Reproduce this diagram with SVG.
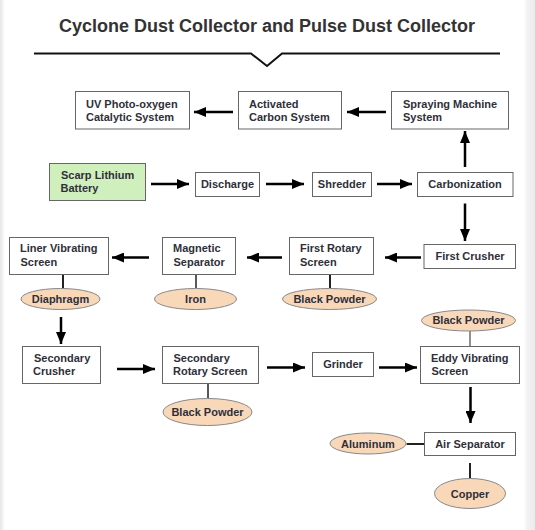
<svg xmlns="http://www.w3.org/2000/svg" width="535" height="530" viewBox="0 0 535 530">
<defs>
<style>
.t{font-family:"Liberation Sans",Arial,sans-serif;font-weight:bold;font-size:11px;fill:#2f2f3a}
.c{text-anchor:middle}
.box{fill:#fff;stroke:#666;stroke-width:1}
.ell{fill:#f8d8b9;stroke:#888;stroke-width:1}
.arr{stroke:#000;stroke-width:2.5;fill:none;marker-end:url(#ah)}
.stub{stroke:#222;stroke-width:2;fill:none}
</style>
<marker id="ah" markerUnits="userSpaceOnUse" viewBox="0 0 12 10" refX="12" refY="5" markerWidth="12" markerHeight="10" orient="auto">
<path d="M0,0 L12,5 L0,10 z" fill="#000"/>
</marker>
<linearGradient id="gl" x1="0" x2="1" y1="0" y2="0"><stop offset="0" stop-color="#e6e6e6"/><stop offset="1" stop-color="#fff"/></linearGradient>
<linearGradient id="gr" x1="0" x2="1" y1="0" y2="0"><stop offset="0" stop-color="#fff"/><stop offset="0.3" stop-color="#f2f2f2"/><stop offset="1" stop-color="#ebebeb"/></linearGradient>
</defs>
<rect x="0" y="0" width="535" height="530" fill="#fff"/>
<rect x="0" y="0" width="5" height="530" fill="url(#gl)"/>
<rect x="524" y="0" width="11" height="530" fill="url(#gr)"/>

<g id="title">
<text x="267" y="31.5" text-anchor="middle" style="font-family:'Liberation Sans',Arial,sans-serif;font-weight:bold;font-size:18px;fill:#333">Cyclone Dust Collector and Pulse Dust Collector</text>
<path d="M34,53.5 L251,53.5 L267,66 L282,53.5 L500,53.5" fill="none" stroke="#111" stroke-width="2"/>
</g>

<g id="connectors">
<line class="arr" x1="233" y1="112" x2="194" y2="112"/>
<line class="arr" x1="386" y1="112" x2="347" y2="112"/>
<line class="arr" x1="151" y1="184" x2="189" y2="184"/>
<line class="arr" x1="266" y1="184" x2="304" y2="184"/>
<line class="arr" x1="377" y1="184" x2="412" y2="184"/>
<line class="arr" x1="465" y1="167" x2="465" y2="131"/>
<line class="arr" x1="465" y1="203.5" x2="465" y2="241"/>
<line class="arr" x1="421" y1="257.5" x2="385" y2="257.5"/>
<line class="arr" x1="282" y1="257.5" x2="247" y2="257.5"/>
<line class="arr" x1="149" y1="257.5" x2="112" y2="257.5"/>
<line class="stub" x1="63" y1="275" x2="63" y2="288"/>
<line class="stub" x1="196" y1="275" x2="196" y2="288" style="stroke-width:1.5"/>
<line class="stub" x1="330" y1="275" x2="330" y2="288"/>
<line class="arr" x1="61" y1="317" x2="61" y2="344"/>
<line class="arr" x1="117" y1="369" x2="155" y2="369"/>
<line class="arr" x1="267" y1="367.5" x2="305" y2="367.5"/>
<line class="arr" x1="379" y1="367.5" x2="417" y2="367.5"/>
<line class="stub" x1="470" y1="331" x2="470" y2="346.5" style="stroke-width:1"/>
<line class="stub" x1="208" y1="384" x2="208" y2="398.5" style="stroke-width:1.5"/>
<line class="arr" x1="470.5" y1="387" x2="470.5" y2="423"/>
<line class="stub" x1="406.5" y1="444" x2="424" y2="444"/>
<line class="stub" x1="470" y1="463" x2="470" y2="478.5"/>
</g>

<g id="uv"><rect class="box" x="75.5" y="91.5" width="114" height="37.5"/>
<text class="t" x="86" y="107.5">UV Photo-oxygen</text><text class="t" x="86" y="120.5">Catalytic System</text></g>
<g id="activated"><rect class="box" x="238.5" y="91.5" width="103" height="37.5"/>
<text class="t" x="249" y="107.5">Activated</text><text class="t" x="249" y="120.5">Carbon System</text></g>
<g id="spraying"><rect class="box" x="391.5" y="91.5" width="117" height="37.5"/>
<text class="t" x="403" y="107.5">Spraying Machine</text><text class="t" x="403" y="120.5">System</text></g>

<g id="scarp"><rect class="box" x="49.5" y="163.5" width="96" height="37" style="fill:#cfefbd"/>
<text class="t" x="61" y="178.5">Scarp Lithium</text><text class="t" x="60.5" y="191.5">Battery</text></g>
<g id="discharge"><rect class="box" x="195.5" y="172.5" width="64" height="24"/>
<text class="t c" x="227.5" y="188">Discharge</text></g>
<g id="shredder"><rect class="box" x="312.5" y="172.5" width="59" height="24"/>
<text class="t c" x="342" y="188">Shredder</text></g>
<g id="carbonization"><rect class="box" x="417.5" y="172.5" width="95.5" height="24"/>
<text class="t c" x="465" y="188">Carbonization</text></g>

<g id="first-crusher"><rect class="box" x="424" y="244.5" width="91.5" height="24"/>
<text class="t c" x="470" y="260">First Crusher</text></g>
<g id="first-rotary"><rect class="box" x="289.5" y="237.5" width="84" height="37"/>
<text class="t" x="300" y="252">First Rotary</text><text class="t" x="300" y="265.5">Screen</text></g>
<g id="magnetic"><rect class="box" x="162.5" y="237.5" width="73" height="37"/>
<text class="t" x="173" y="252">Magnetic</text><text class="t" x="173.5" y="265.5">Separator</text></g>
<g id="liner"><rect class="box" x="9.5" y="237.5" width="99" height="37"/>
<text class="t" x="20" y="252">Liner Vibrating</text><text class="t" x="20.5" y="265.5">Screen</text></g>

<g id="diaphragm"><ellipse class="ell" cx="60.5" cy="299" rx="39.5" ry="10.5"/>
<text class="t c" x="60.5" y="302.5">Diaphragm</text></g>
<g id="iron"><ellipse class="ell" cx="195.5" cy="299" rx="41" ry="10.5"/>
<text class="t c" x="195.5" y="302.5">Iron</text></g>
<g id="black-powder-1"><ellipse class="ell" cx="329.5" cy="299" rx="47" ry="10.5"/>
<text class="t c" x="329.5" y="302.5">Black Powder</text></g>

<g id="secondary-crusher"><rect class="box" x="22.5" y="346.5" width="78" height="37"/>
<text class="t" x="34" y="361.5">Secondary</text><text class="t" x="33" y="374.5">Crusher</text></g>
<g id="secondary-rotary"><rect class="box" x="162.5" y="346.5" width="96" height="37"/>
<text class="t" x="173.5" y="361.5">Secondary</text><text class="t" x="173" y="374.5">Rotary Screen</text></g>
<g id="grinder"><rect class="box" x="312.5" y="352.5" width="61" height="24"/>
<text class="t c" x="343" y="368">Grinder</text></g>
<g id="eddy"><rect class="box" x="420.5" y="346.5" width="99" height="37"/>
<text class="t" x="431" y="361.5">Eddy Vibrating</text><text class="t" x="431.5" y="374.5">Screen</text></g>

<g id="black-powder-2"><ellipse class="ell" cx="468.5" cy="320.5" rx="47" ry="10.5"/>
<text class="t c" x="468.5" y="324">Black Powder</text></g>
<g id="black-powder-3"><ellipse class="ell" cx="207.5" cy="412" rx="44.5" ry="13.5"/>
<text class="t c" x="207.5" y="416">Black Powder</text></g>

<g id="air-separator"><rect class="box" x="424.5" y="432.5" width="91" height="23"/>
<text class="t c" x="470" y="447.5">Air Separator</text></g>
<g id="aluminum"><ellipse class="ell" cx="368" cy="443.5" rx="38" ry="10.5"/>
<text class="t c" x="368" y="447.5">Aluminum</text></g>
<g id="copper"><ellipse class="ell" cx="470" cy="493.5" rx="35.5" ry="15"/>
<text class="t c" x="470" y="497.5">Copper</text></g>
</svg>
